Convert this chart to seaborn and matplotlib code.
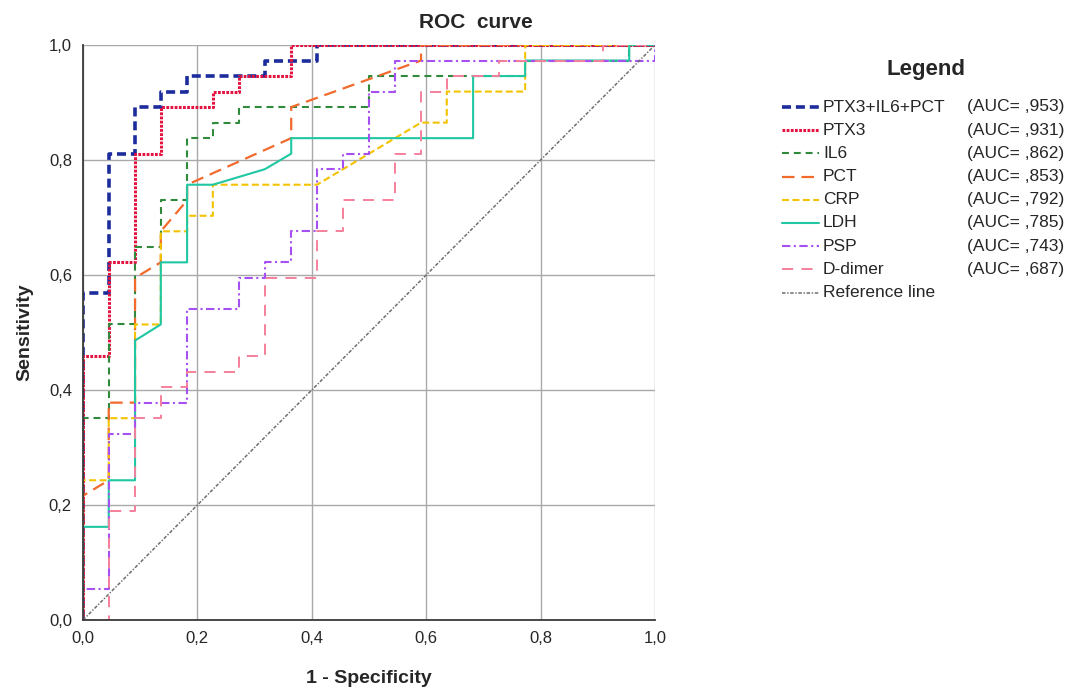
import matplotlib
matplotlib.use("Agg")
import matplotlib.pyplot as plt
import seaborn as sns

# ROC curves (1 - specificity, sensitivity)
combo_fpr = [0, 0, 0.045, 0.045, 0.091, 0.091, 0.136, 0.136, 0.182, 0.182, 0.318, 0.318, 0.409, 0.409, 1.0]
combo_tpr = [0, 0.568, 0.568, 0.811, 0.811, 0.892, 0.892, 0.919, 0.919, 0.946, 0.946, 0.973, 0.973, 1.0, 1.0]

ptx3_fpr = [0, 0, 0.045, 0.045, 0.091, 0.091, 0.136, 0.136, 0.227, 0.227, 0.273, 0.273, 0.364, 0.364, 1.0]
ptx3_tpr = [0, 0.459, 0.459, 0.622, 0.622, 0.811, 0.811, 0.892, 0.892, 0.919, 0.919, 0.946, 0.946, 1.0, 1.0]

il6_fpr = [0, 0, 0.045, 0.045, 0.091, 0.091, 0.136, 0.136, 0.182, 0.182, 0.227, 0.227, 0.273, 0.273,
           0.5, 0.5, 0.773, 0.773, 0.955, 0.955, 1.0]
il6_tpr = [0, 0.351, 0.351, 0.514, 0.514, 0.649, 0.649, 0.730, 0.730, 0.838, 0.838, 0.865, 0.865, 0.892,
           0.892, 0.946, 0.946, 0.973, 0.973, 1.0, 1.0]

pct_fpr = [0, 0, 0.045, 0.045, 0.091, 0.091, 0.136, 0.136, 0.182, 0.182, 0.364, 0.364, 0.591, 0.591, 1.0]
pct_tpr = [0, 0.216, 0.243, 0.378, 0.378, 0.595, 0.622, 0.676, 0.730, 0.757, 0.838, 0.892, 0.973, 1.0, 1.0]

crp_fpr = [0, 0, 0.045, 0.045, 0.091, 0.091, 0.136, 0.136, 0.182, 0.182, 0.227, 0.227, 0.409, 0.591,
           0.636, 0.636, 0.773, 0.773, 1.0]
crp_tpr = [0, 0.243, 0.243, 0.351, 0.351, 0.514, 0.514, 0.676, 0.676, 0.703, 0.703, 0.757, 0.757, 0.865,
           0.865, 0.919, 0.919, 1.0, 1.0]

ldh_fpr = [0, 0, 0.045, 0.045, 0.091, 0.091, 0.136, 0.136, 0.182, 0.182, 0.227, 0.318, 0.364, 0.364,
           0.682, 0.682, 0.773, 0.773, 0.955, 0.955, 1.0]
ldh_tpr = [0, 0.162, 0.162, 0.243, 0.243, 0.486, 0.514, 0.622, 0.622, 0.757, 0.757, 0.784, 0.811, 0.838,
           0.838, 0.946, 0.946, 0.973, 0.973, 1.0, 1.0]

psp_fpr = [0, 0, 0.045, 0.045, 0.091, 0.091, 0.182, 0.182, 0.273, 0.273, 0.318, 0.318, 0.364, 0.364,
           0.409, 0.409, 0.455, 0.455, 0.5, 0.5, 0.545, 0.545, 1.0, 1.0]
psp_tpr = [0, 0.054, 0.054, 0.324, 0.324, 0.378, 0.378, 0.541, 0.541, 0.595, 0.595, 0.622, 0.622, 0.676,
           0.676, 0.784, 0.784, 0.811, 0.811, 0.919, 0.919, 0.973, 0.973, 1.0]

ddimer_fpr = [0, 0.045, 0.045, 0.091, 0.091, 0.136, 0.136, 0.182, 0.182, 0.273, 0.273, 0.318, 0.318, 0.409,
              0.409, 0.455, 0.455, 0.545, 0.545, 0.591, 0.591, 0.636, 0.636, 0.727, 0.727, 0.909, 0.909, 1.0]
ddimer_tpr = [0, 0, 0.189, 0.189, 0.351, 0.351, 0.405, 0.405, 0.432, 0.432, 0.459, 0.459, 0.595, 0.595,
              0.676, 0.676, 0.730, 0.730, 0.811, 0.811, 0.919, 0.919, 0.946, 0.946, 0.973, 0.973, 1.0, 1.0]

ref_x = [0, 1]
ref_y = [0, 1]

names = ["PTX3+IL6+PCT", "PTX3", "IL6", "PCT", "CRP", "LDH", "PSP", "D-dimer"]
auc_labels = ["(AUC= ,953)", "(AUC= ,931)", "(AUC= ,862)", "(AUC= ,853)",
              "(AUC= ,792)", "(AUC= ,785)", "(AUC= ,743)", "(AUC= ,687)"]
tick_values = [0, 0.2, 0.4, 0.6, 0.8, 1.0]
tick_labels = ["0,0", "0,2", "0,4", "0,6", "0,8", "1,0"]

curves = [(combo_fpr, combo_tpr), (ptx3_fpr, ptx3_tpr), (il6_fpr, il6_tpr), (pct_fpr, pct_tpr),
          (crp_fpr, crp_tpr), (ldh_fpr, ldh_tpr), (psp_fpr, psp_tpr), (ddimer_fpr, ddimer_tpr)]

# line styles (dashes in points)
styles = [
    dict(color="#1c2c9c", lw=2.6, dashes=(6.5, 3.5)),
    dict(color="#e3123f", lw=2.2, dashes=(2.0, 1.0)),
    dict(color="#2f8a3c", lw=1.5, dashes=(5.0, 3.5)),
    dict(color="#f26a2c", lw=1.6, dashes=(9.0, 5.0)),
    dict(color="#f4c300", lw=1.5, dashes=(5.0, 2.5)),
    dict(color="#1fc8a2", lw=1.5),
    dict(color="#a650f2", lw=1.5, dashes=(6.0, 2.5, 1.5, 2.5)),
    dict(color="#f5809c", lw=1.4, dashes=(8.0, 6.0)),
]
ref_style = dict(color="#6e6e6e", lw=1.1, dashes=(2.5, 1.2, 1.0, 1.2))

sns.set_style("white")
plt.rcParams["font.family"] = ["Liberation Sans", "DejaVu Sans"]
plt.rcParams["lines.scale_dashes"] = False

fig = plt.figure(figsize=(10.68, 6.88), dpi=100)
ax = fig.add_axes([83 / 1068, 1 - 620 / 688, 572 / 1068, 575 / 688])

for (fpr, tpr), st in zip(curves, styles):
    sns.lineplot(x=fpr, y=tpr, ax=ax, estimator=None, sort=False, **st)
sns.lineplot(x=ref_x, y=ref_y, ax=ax, estimator=None, sort=False, **ref_style)

ax.set_xlim(0, 1)
ax.set_ylim(0, 1)
ax.set_xticks(tick_values)
ax.set_yticks(tick_values)
ax.set_xticklabels(tick_labels)
ax.set_yticklabels(tick_labels)
ax.tick_params(axis="both", labelsize=12, length=4, color="#909090", direction="out", pad=4)
ax.grid(True, color="#a9a9a9", lw=1.0)
for side in ["top", "right"]:
    ax.spines[side].set_visible(False)
for side in ["left", "bottom"]:
    ax.spines[side].set_color("#3a3a3a")
    ax.spines[side].set_linewidth(1.3)
ax.set_xlabel("1 - Specificity", fontsize=14, fontweight="bold", labelpad=17)
ax.set_ylabel("Sensitivity", fontsize=14, fontweight="bold", labelpad=11)
fig.text(476 / 1068, 1 - 22 / 688, "ROC  curve", fontsize=15, fontweight="bold", ha="center", va="center")

# legend drawn by hand so the AUC column lines up
lax = fig.add_axes([0, 0, 1, 1])
lax.set_xlim(0, 1068)
lax.set_ylim(688, 0)
lax.axis("off")
lax.text(926, 69, "Legend", fontsize=16, fontweight="bold", ha="center", va="center")
row_y = 107
for name, auc, st in zip(names, auc_labels, styles):
    lax.plot([782, 819], [row_y, row_y], **st)
    lax.text(823, row_y, name, fontsize=12.5, ha="left", va="center")
    lax.text(1064, row_y, auc, fontsize=12.5, ha="right", va="center")
    row_y += 23.2
lax.plot([782, 819], [row_y, row_y], **ref_style)
lax.text(823, row_y, "Reference line", fontsize=12.5, ha="left", va="center")

fig.savefig("out.png", dpi=100)
